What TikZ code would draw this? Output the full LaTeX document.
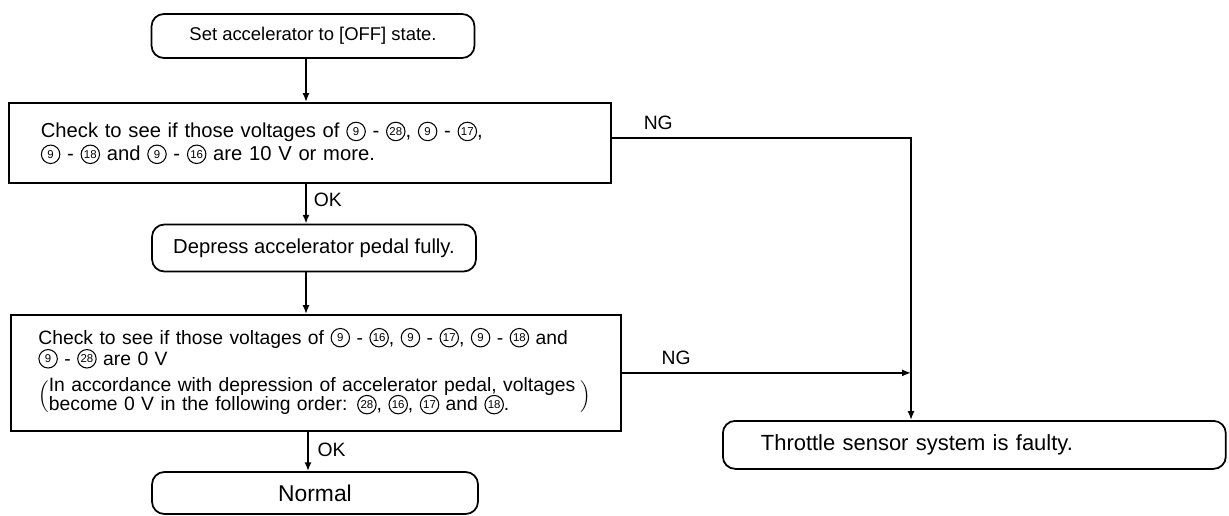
\documentclass[tikz,border=0pt]{standalone}
\usepackage{fontspec}
\setmainfont{Liberation Sans}
\usepackage{tikz}
\usetikzlibrary{arrows.meta, positioning, calc}

% circled terminal number
\newcommand{\tn}[1]{\tikz[baseline={([yshift=-3.6pt]tn.center)}]
  \node[circle, draw, line width=0.6pt, inner sep=0pt, minimum size=10.5pt,
        text width={}, align=center, anchor=center,
        font=\fontsize{6.5}{6.5}\selectfont] (tn) {#1};}

\begin{document}
\begin{tikzpicture}[x=0.02cm, y=-0.02cm]

\tikzset{
  rbox/.style={draw, line width=1pt, rounded corners=7pt, align=center,
               font=\fontsize{10.5}{12}\selectfont},
  cbox/.style={draw, line width=1pt, anchor=north west, align=left,
               font=\fontsize{11}{13}\selectfont},
  lbl/.style={font=\fontsize{11}{12}\selectfont, inner sep=1pt},
  arr/.style={-{Latex[length=5pt, width=4pt]}, line width=1pt},
}

\useasboundingbox (0,0) rectangle (1229,515);

% ---- Main column ------------------------------------------------------------
\node[rbox, minimum width=6.46cm, minimum height=0.88cm] (set) at (313,36)
  {Set accelerator to [OFF] state.};

\node[cbox, minimum height=1.6cm, text width=10.76cm, inner xsep=0.64cm,
      font=\fontsize{11.5}{13}\selectfont]
  (chk1) at (8,102)
  {Check to see if those voltages of \tn{9} - \tn{28}, \tn{9} - \tn{17},\\
   \tn{9} - \tn{18} and \tn{9} - \tn{16} are 10 V or more.};

\node[rbox, minimum width=6.48cm, minimum height=0.94cm,
      font=\fontsize{11.5}{12}\selectfont] (press) at (314,248)
  {Depress accelerator pedal fully.};

\node[cbox, minimum height=2.32cm, text width=11.1cm, inner xsep=0.55cm]
  (chk2) at (10,314)
  {Check to see if those voltages of \tn{9} - \tn{16}, \tn{9} - \tn{17}, \tn{9} - \tn{18} and\\[-1pt]
   \tn{9} - \tn{28} are 0 V\\[3pt]
   $\delimiterfactor=700 \delimitershortfall=8pt
    \left(\mbox{\begin{tabular}{@{}l@{}}
     In accordance with depression of accelerator pedal, voltages\\[-2pt]
     become 0 V in the following order: \tn{28}, \tn{16}, \tn{17} and \tn{18}.
   \end{tabular}}\;\right)$};

\node[rbox, minimum width=6.52cm, minimum height=0.84cm,
      font=\fontsize{13}{14}\selectfont] (normal) at (315,493)
  {Normal};

% ---- Fault branch -----------------------------------------------------------
\node[cbox, rounded corners=7pt, minimum height=0.96cm, text width=8.54cm,
      inner xsep=0.76cm, font=\fontsize{12.5}{14}\selectfont]
  (fault) at (722,420) {Throttle sensor system is faulty.};

\coordinate (bus) at (911,138);

% ---- Connectors -------------------------------------------------------------
\draw[arr] (set.south -| 306,0) -- (chk1.north -| 306,0);
\draw[arr] (chk1.south -| 306,0) -- (press.north -| 306,0)
  node[lbl, pos=0.4, right=3pt] (ok1) {OK};
\draw[arr] (press.south -| 306,0) -- (chk2.north -| 306,0);
\draw[arr] (chk2.south -| 308,0) -- (normal.north -| 308,0)
  node[lbl, pos=0.45, right=4pt] (ok2) {OK};

\draw[arr] (chk1.east |- bus) -| (bus |- fault.north);
\draw[arr] (chk2.east) -- (chk2.east -| bus);

\node[lbl, above right=0.12cm and 0.6cm of chk1.east |- bus] (ng1) {NG};
\node[lbl, above right=0.12cm and 0.76cm of chk2.east] (ng2) {NG};

\end{tikzpicture}
\end{document}
